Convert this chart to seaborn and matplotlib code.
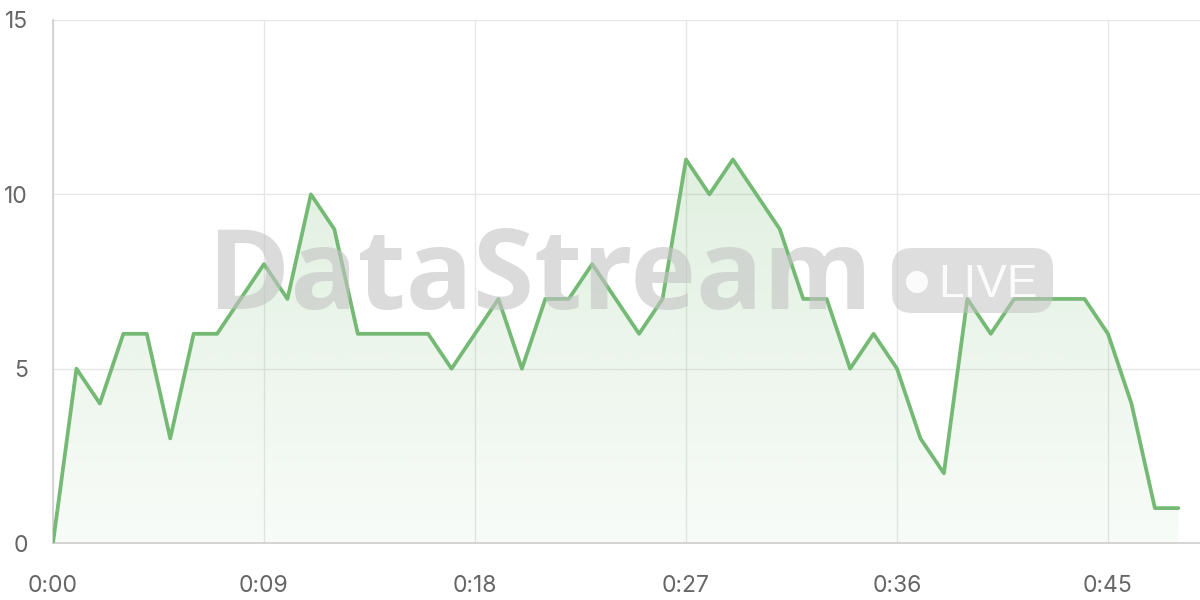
import numpy as np
import pandas as pd
import matplotlib
matplotlib.use("Agg")
import matplotlib.pyplot as plt
from matplotlib.patches import FancyBboxPatch, Circle
import seaborn as sns

# data: one sample per step, labels every 9 steps
minutes = list(range(49))
values = [0, 5, 4, 6, 6, 3, 6, 6, 7, 8, 7, 10, 9, 6, 6, 6, 6, 5, 6, 7,
          5, 7, 7, 8, 7, 6, 7, 11, 10, 11, 10, 9, 7, 7, 5, 6, 5, 3, 2, 7,
          6, 7, 7, 7, 7, 6, 4, 1, 1]
tick_pos = [0, 9, 18, 27, 36, 45]
tick_labels = ["0:00", "0:09", "0:18", "0:27", "0:36", "0:45"]
y_ticks = [0, 5, 10, 15]

df = pd.DataFrame({"t": minutes, "v": values})

sns.set_theme(style="white")
plt.rcParams["font.family"] = ["Inter", "DejaVu Sans"]

line_color = "#74b974"
grid_color = "#e6e6e6"

fig = plt.figure(figsize=(12, 6), dpi=100)
ax = fig.add_axes([53 / 1200, 57 / 600, 1147 / 1200, 523 / 600])

# gradient fill under the line
fill = ax.fill_between(df["t"], df["v"], 0, color="none", lw=0)
grad = np.linspace(0.22, 0.05, 256).reshape(-1, 1)
rgba = np.zeros((256, 1, 4))
rgba[..., :3] = matplotlib.colors.to_rgb(line_color)
rgba[..., 3] = grad
img = ax.imshow(rgba, extent=[0, 48, 0, 11], aspect="auto", origin="upper", zorder=1)
img.set_clip_path(fill.get_paths()[0], transform=ax.transData)

sns.lineplot(data=df, x="t", y="v", ax=ax, color=line_color, lw=2.7, zorder=3)

ax.set_xlim(0, 1147 / (211 / 9))
ax.set_ylim(0, 15)
ax.set_xticks(tick_pos, tick_labels)
ax.set_yticks(y_ticks)
ax.grid(True, color=grid_color, lw=1)
ax.set_axisbelow(True)
ax.tick_params(axis="both", colors=grid_color, length=15, width=1,
               labelcolor="#666666", labelsize=16.5)
ax.tick_params(axis="x", pad=8)
ax.tick_params(axis="y", pad=3)
for s in ["top", "right"]:
    ax.spines[s].set_visible(False)
ax.spines["left"].set_color("#d0d0d0")
ax.spines["bottom"].set_color("#d0d0d0")
ax.set_xlabel("")
ax.set_ylabel("")

# watermark
fig.text(540 / 1200, 1 - 280 / 600, "DataStream", ha="center", va="center",
         fontsize=80, fontweight="bold", color="#c4c4c4", alpha=0.6,
         family=["Open Sans", "DejaVu Sans"], zorder=10)
px = fig.dpi_scale_trans
pill = FancyBboxPatch((8.92, 2.87), 1.61, 0.65,
                      boxstyle="round,pad=0,rounding_size=0.2",
                      transform=px, facecolor="#c4c4c4",
                      alpha=0.55, edgecolor="none", zorder=10)
fig.add_artist(pill)
fig.add_artist(Circle((9.17, 3.18), 0.11, transform=px, facecolor="white",
                      edgecolor="none", alpha=0.9, zorder=11))
fig.text(9.38 / 12, 3.03 / 6, "LIVE", ha="left", va="baseline",
         fontsize=33, color="white", alpha=0.9, zorder=11,
         family=["Liberation Sans", "DejaVu Sans"])

fig.savefig("out.png", dpi=100)
